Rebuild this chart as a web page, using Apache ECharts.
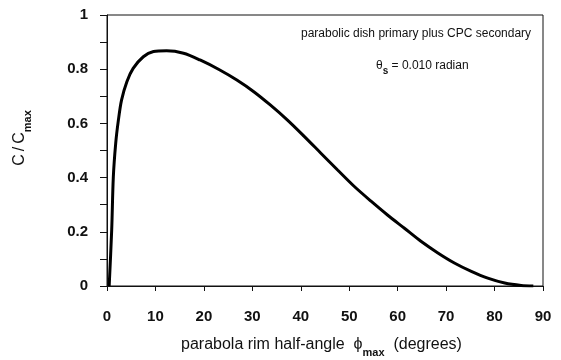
<!DOCTYPE html>
<html><head><meta charset="utf-8">
<script src="https://cdn.jsdelivr.net/npm/echarts@6/dist/echarts.min.js"></script>
<style>html,body{margin:0;padding:0;background:#fff}#c{width:561px;height:360px}</style>
</head><body><div id="c"></div>
<script>
// rim half-angle (degrees)
var phi = [0.45, 0.97, 1.3, 1.8, 2.35, 3.0, 4.1, 5.4, 7.5, 9.6, 12.3, 15.8, 19.2, 23.2, 26.8, 30.3, 33.7, 37.2, 40.6, 44.1, 47.6, 51.0, 54.5, 57.9, 61.4, 64.8, 68.3, 71.7, 75.2, 78.6, 82.1, 85.5, 88.0];
// concentration ratio C/Cmax
var ratio = [0.0, 0.207, 0.40, 0.527, 0.612, 0.686, 0.754, 0.803, 0.846, 0.865, 0.868, 0.859, 0.834, 0.798, 0.760, 0.717, 0.668, 0.613, 0.554, 0.491, 0.428, 0.368, 0.313, 0.262, 0.213, 0.165, 0.122, 0.085, 0.054, 0.029, 0.011, 0.002, 0.0];
var xTicks = [0, 10, 20, 30, 40, 50, 60, 70, 80, 90];
var yTicks = ['0', '0.2', '0.4', '0.6', '0.8', '1'];
var noteLine1 = 'parabolic dish primary plus CPC secondary';
var noteLine2 = ['θ', 's', ' = 0.010 radian'];
var xTitle = ['parabola rim half-angle  ϕ', 'max', '  (degrees)'];
var yTitle = ['C', '/', 'C', 'max'];

var data = phi.map(function (p, i) { return [p, ratio[i]]; });
var F = '"Liberation Sans", Arial, Helvetica, sans-serif';
var ctx = document.createElement('canvas').getContext('2d');
function measure(t, font) { ctx.font = font; return ctx.measureText(t).width; }
// build a run of text pieces: each {t, font, dy, gap}
function textRun(pieces, x, y, rotation, centered) {
  var total = 0;
  pieces.forEach(function (p) { p.w = measure(p.t, p.font); total += p.w + (p.gap || 0) * 2; });
  var cx = centered ? -total / 2 : 0;
  var children = pieces.map(function (p) {
    var el = {type: 'text', x: cx + (p.gap || 0), y: p.dy || 0,
      style: {text: p.t, font: p.font, fill: '#111', align: 'left', verticalAlign: 'middle'}};
    cx += p.w + (p.gap || 0) * 2;
    return el;
  });
  return {type: 'group', x: x, y: y, rotation: rotation || 0, children: children};
}
var fMain = '16px ' + F, fSub = 'bold 11px ' + F;
var chart = echarts.init(document.getElementById('c'), null, {renderer: 'canvas'});
chart.setOption({
  animation: false,
  backgroundColor: '#fff',
  grid: {left: 107, right: 18, top: 15, bottom: 74, show: true, borderColor: '#111', borderWidth: 1, backgroundColor: 'transparent'},
  xAxis: {
    type: 'value', min: 0, max: 90, interval: 10,
    axisLine: {show: true, lineStyle: {color: '#111', width: 1}},
    axisTick: {show: true, inside: false, length: 5, lineStyle: {color: '#111'}},
    splitLine: {show: false},
    axisLabel: {margin: 23, color: '#111', fontSize: 15, fontWeight: 'bold', fontFamily: F,
      formatter: function (v) { return xTicks.indexOf(v) >= 0 ? String(v) : ''; }}
  },
  yAxis: {
    type: 'value', min: 0, max: 1, interval: 0.1,
    axisLine: {show: true, lineStyle: {color: '#111', width: 1}},
    axisTick: {show: true, inside: false, length: 7, lineStyle: {color: '#111'}},
    splitLine: {show: false},
    axisLabel: {margin: 19, color: '#111', fontSize: 15, fontWeight: 'bold', fontFamily: F,
      formatter: function (v) {
        var k = Math.round(v * 10);
        return k % 2 === 0 ? yTicks[k / 2] : '';
      }}
  },
  series: [{
    type: 'line', data: data, showSymbol: false, smooth: 0.3,
    lineStyle: {color: '#000', width: 3}
  }],
  graphic: [
    {type: 'text', x: 301, y: 34, style: {text: noteLine1, font: '12px ' + F, fill: '#111', verticalAlign: 'middle', align: 'left'}},
    textRun([
      {t: noteLine2[0], font: '12px ' + F},
      {t: noteLine2[1], font: 'bold 10px ' + F, dy: 5},
      {t: noteLine2[2], font: '12px ' + F}
    ], 376, 66, 0, false),
    textRun([
      {t: xTitle[0], font: fMain},
      {t: xTitle[1], font: fSub, dy: 8},
      {t: xTitle[2], font: fMain}
    ], 181, 345, 0, false),
    textRun([
      {t: yTitle[0], font: fMain},
      {t: yTitle[1], font: fMain, gap: 3},
      {t: yTitle[2], font: fMain},
      {t: yTitle[3], font: fSub, dy: 8}
    ], 20, 138, Math.PI / 2, true)
  ]
});
</script></body></html>
